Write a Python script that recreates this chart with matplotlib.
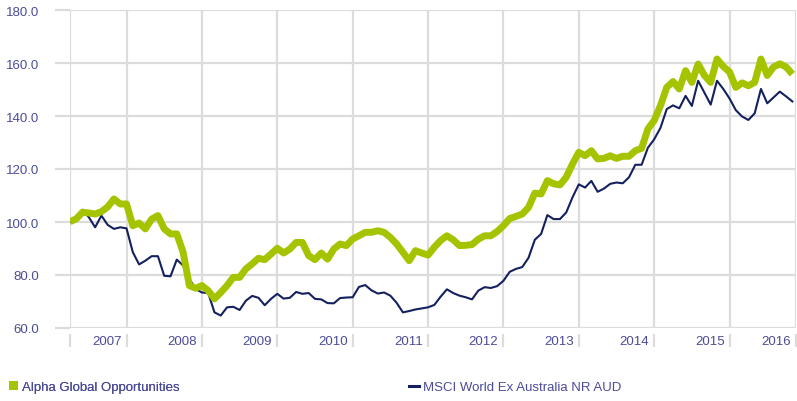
import matplotlib
matplotlib.use("Agg")
import matplotlib.pyplot as plt
from matplotlib.patches import Patch
from matplotlib.lines import Line2D
import matplotlib.transforms as mtransforms

# monthly index values, Apr 2007 .. Nov 2016
alpha = [100.1, 101.2, 103.7, 103.4, 103.0, 103.9, 105.7, 108.7, 106.8, 106.8,
         98.6, 99.6, 97.4, 101.1, 102.4, 97.4, 95.5, 95.5, 88.7, 76.0,
         75.0, 76.0, 74.1, 71.0, 73.4, 76.0, 79.1, 79.1, 82.3, 84.2,
         86.3, 85.8, 87.9, 90.1, 88.3, 89.8, 92.3, 92.3, 87.3, 85.8,
         88.3, 86.0, 89.8, 91.7, 91.1, 93.6, 94.8, 96.1, 96.1, 96.7,
         96.1, 94.2, 91.7, 88.6, 85.4, 89.2, 88.3, 87.5, 90.5, 93.0,
         94.8, 93.3, 91.1, 91.2, 91.5, 93.5, 94.8, 94.8, 96.4, 98.6,
         101.3, 102.1, 103.0, 105.5, 110.9, 110.6, 115.6, 114.4, 114.0, 116.9,
         121.9, 126.3, 125.0, 126.9, 123.8, 124.0, 125.0, 124.0, 124.8, 124.8,
         126.9, 127.8, 135.1, 138.3, 143.9, 150.8, 153.0, 150.2, 157.1, 152.7,
         159.6, 155.3, 152.7, 161.5, 158.7, 156.6, 150.8, 152.5, 151.4, 152.7,
         161.5, 155.3, 158.5, 159.7, 158.5, 155.8]

msci = [100.0, 102.2, 104.6, 101.8, 98.0, 102.4, 98.9, 97.4, 98.0, 97.6,
        88.6, 84.0, 85.4, 87.1, 87.1, 79.7, 79.5, 85.8, 83.6, 78.5,
        74.7, 73.4, 73.2, 65.9, 64.7, 67.8, 68.0, 66.8, 70.3, 72.1,
        71.4, 68.6, 71.0, 72.9, 71.1, 71.4, 73.6, 72.9, 73.2, 71.0,
        70.8, 69.4, 69.3, 71.3, 71.5, 71.6, 75.5, 76.2, 74.2, 73.0,
        73.4, 72.2, 69.5, 65.9, 66.4, 67.0, 67.4, 67.8, 68.7, 71.8,
        74.6, 73.2, 72.2, 71.6, 70.8, 74.1, 75.4, 75.1, 75.8, 77.8,
        81.2, 82.3, 83.0, 86.5, 93.3, 95.5, 102.6, 101.1, 101.1, 103.6,
        109.3, 114.2, 113.0, 115.5, 111.4, 112.6, 114.4, 114.9, 114.6, 116.9,
        121.6, 121.6, 128.0, 131.2, 135.5, 142.6, 144.0, 142.9, 147.6, 143.8,
        153.3, 148.8, 144.3, 153.3, 150.2, 146.6, 142.2, 139.8, 138.5, 141.0,
        150.2, 144.8, 147.0, 149.2, 147.4, 145.5]

years = ["2007", "2008", "2009", "2010", "2011", "2012", "2013", "2014", "2015", "2016"]
year_starts = [0, 9, 21, 33, 45, 57, 69, 81, 93, 105, 115.5]  # month index of year boundaries
y_ticks = [60, 80, 100, 120, 140, 160, 180]

green = "#a6c300"
navy = "#14215e"
grid_c = "#dcdcdc"
text_c = "#4a4c98"

plt.rcParams['font.family'] = ['Liberation Sans', 'DejaVu Sans']
plt.rcParams['font.size'] = 9.5

fig = plt.figure(figsize=(7.97, 4.02), dpi=100)
W, H = 797, 402
ax = fig.add_axes([70 / W, 1 - 329 / H, (795.5 - 70) / W, (329 - 11) / H])

x = list(range(len(alpha)))
ax.plot(x, msci, color=navy, lw=1.5, solid_joinstyle='round', zorder=3)
ax.plot(x, alpha, color=green, lw=5, solid_joinstyle='round', solid_capstyle='butt', zorder=4)

ax.set_xlim(0, 115.5)
ax.set_ylim(60, 180)

ax.set_yticks(y_ticks)
ax.set_yticklabels([f"{v:.1f}" for v in y_ticks])
ax.set_xticks(year_starts)
ax.set_xticklabels([])

# year labels sit right-aligned just before each year boundary
trans = mtransforms.blended_transform_factory(ax.transData, ax.transAxes)
for b, yr in zip(year_starts[1:], years):
    ax.text(b - 0.8, -0.042, yr, transform=trans, ha='right', va='center',
            color=text_c, fontsize=9.5)

ax.grid(True, color=grid_c, lw=1.6, zorder=0)
ax.set_axisbelow(True)
for s in ax.spines.values():
    s.set_visible(False)
ax.spines['bottom'].set_position(('outward', 4))

ax.tick_params(axis='y', length=11, width=1.6, color=grid_c, pad=11.5, labelcolor=text_c)
ax.tick_params(axis='x', length=9, width=1.6, color=grid_c, direction='out')

# legend, two separate entries
h1 = [Patch(facecolor=green, edgecolor='none')]
h2 = [Line2D([0], [0], color=navy, lw=2.2)]
leg1 = fig.legend(h1, ["Alpha Global Opportunities"], loc='center left',
                  bbox_to_anchor=(9 / W, 1 - 388 / H), frameon=False, borderpad=0,
                  borderaxespad=0, handlelength=0.7, handleheight=0.6, handletextpad=0.3,
                  labelcolor=text_c, fontsize=9.5)
leg2 = fig.legend(h2, ["MSCI World Ex Australia NR AUD"], loc='center left',
                  bbox_to_anchor=(409 / W, 1 - 388 / H), frameon=False, borderpad=0,
                  borderaxespad=0, handlelength=0.75, handletextpad=0.3,
                  labelcolor=text_c, fontsize=9.5)
fig.add_artist(leg1)

fig.savefig("out.png", dpi=100)
